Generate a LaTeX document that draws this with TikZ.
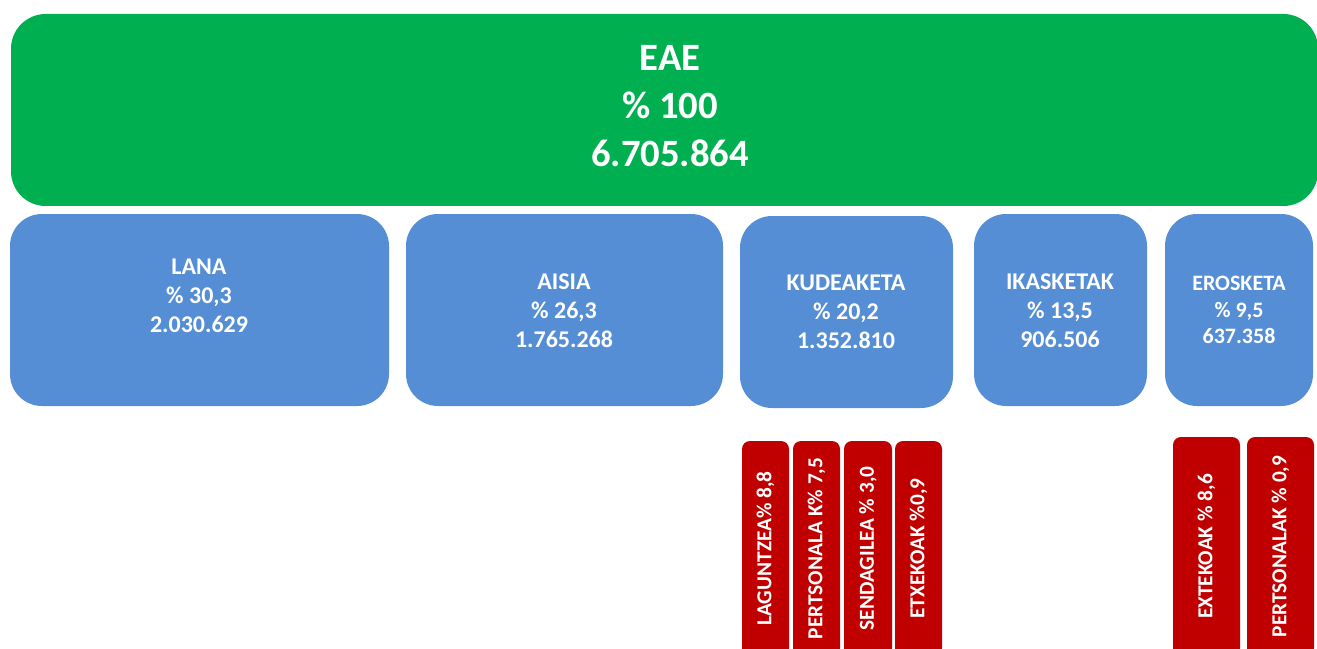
\documentclass[tikz,border=0pt]{standalone}
\usepackage{fontspec}
\setmainfont{Carlito}
\usetikzlibrary{fit}
\definecolor{eaegreen}{HTML}{00B050}
\definecolor{catblue}{HTML}{558ED5}
\definecolor{subred}{HTML}{C00000}
\begin{document}
\begin{tikzpicture}[x=0.75pt,y=-0.75pt,
  greenbox/.style={fill=eaegreen,rounded corners=26pt,inner sep=0pt},
  bluebox/.style={fill=catblue,rounded corners=24pt,inner sep=0pt},
  redbox/.style={fill=subred,rounded corners=6pt,inner sep=0pt},
  bigtxt/.style={text=white,align=center,font=\fontsize{29}{36}\selectfont\bfseries,inner sep=0pt},
  midtxt/.style={text=white,align=center,font=\fontsize{18}{21.75}\selectfont\bfseries,inner sep=0pt},
  smalltxt/.style={text=white,align=center,font=\fontsize{16.5}{20}\selectfont\bfseries,inner sep=0pt},
  redtxt/.style={text=white,rotate=90,font=\fontsize{16}{19}\selectfont\bfseries,inner sep=0pt}]
\useasboundingbox (0,0) rectangle (1317,649);
\clip (0,0) rectangle (1317,649);
% top
\node[greenbox,fit={(11,14) (1318,206)}] (eae) {};
\node[bigtxt] (eaet) at (670,106) {EAE\\\% 100\\6.705.864};
% categories
\node[bluebox,fit={(10,214) (389,406)}] (lana) {};
\node[midtxt] (lanat) at (199,296) {LANA\\\% 30,3\\2.030.629};
\node[bluebox,fit={(406,214) (723,406)}] (aisia) {};
\node[midtxt] (aisiat) at (564,311) {AISIA\\\% 26,3\\1.765.268};
\node[bluebox,fit={(740,216) (953,408)}] (kude) {};
\node[midtxt] (kudet) at (846,312) {KUDEAKETA\\\% 20,2\\1.352.810};
\node[bluebox,fit={(974,214) (1147,406)}] (ikas) {};
\node[midtxt] (ikast) at (1060,311) {IKASKETAK\\\% 13,5\\906.506};
\node[bluebox,fit={(1165,214) (1313,406)}] (eros) {};
\node[smalltxt] (erost) at (1239,310) {EROSKETA\\\% 9,5\\637.358};
% sub items
\node[redbox,fit={(742,441) (789,656)}] (r1) {};
\node[redtxt] at (r1.center) (r1t) {LAGUNTZEA\% 8,8};
\node[redbox,fit={(793,441) (840,656)}] (r2) {};
\node[redtxt] at (r2.center) (r2t) {PERTSONALA K\% 7,5};
\node[redbox,fit={(844,441) (892,656)}] (r3) {};
\node[redtxt] at (r3.center) (r3t) {SENDAGILEA \% 3,0};
\node[redbox,fit={(895,441) (942,656)}] (r4) {};
\node[redtxt] at (r4.center) (r4t) {ETXEKOAK \%0,9};
\node[redbox,fit={(1173,437) (1240,656)}] (r5) {};
\node[redtxt] at (r5.center) (r5t) {EXTEKOAK \% 8,6};
\node[redbox,fit={(1247,437) (1314,656)}] (r6) {};
\node[redtxt] at (r6.center) (r6t) {PERTSONALAK \% 0,9};
\end{tikzpicture}
\end{document}
